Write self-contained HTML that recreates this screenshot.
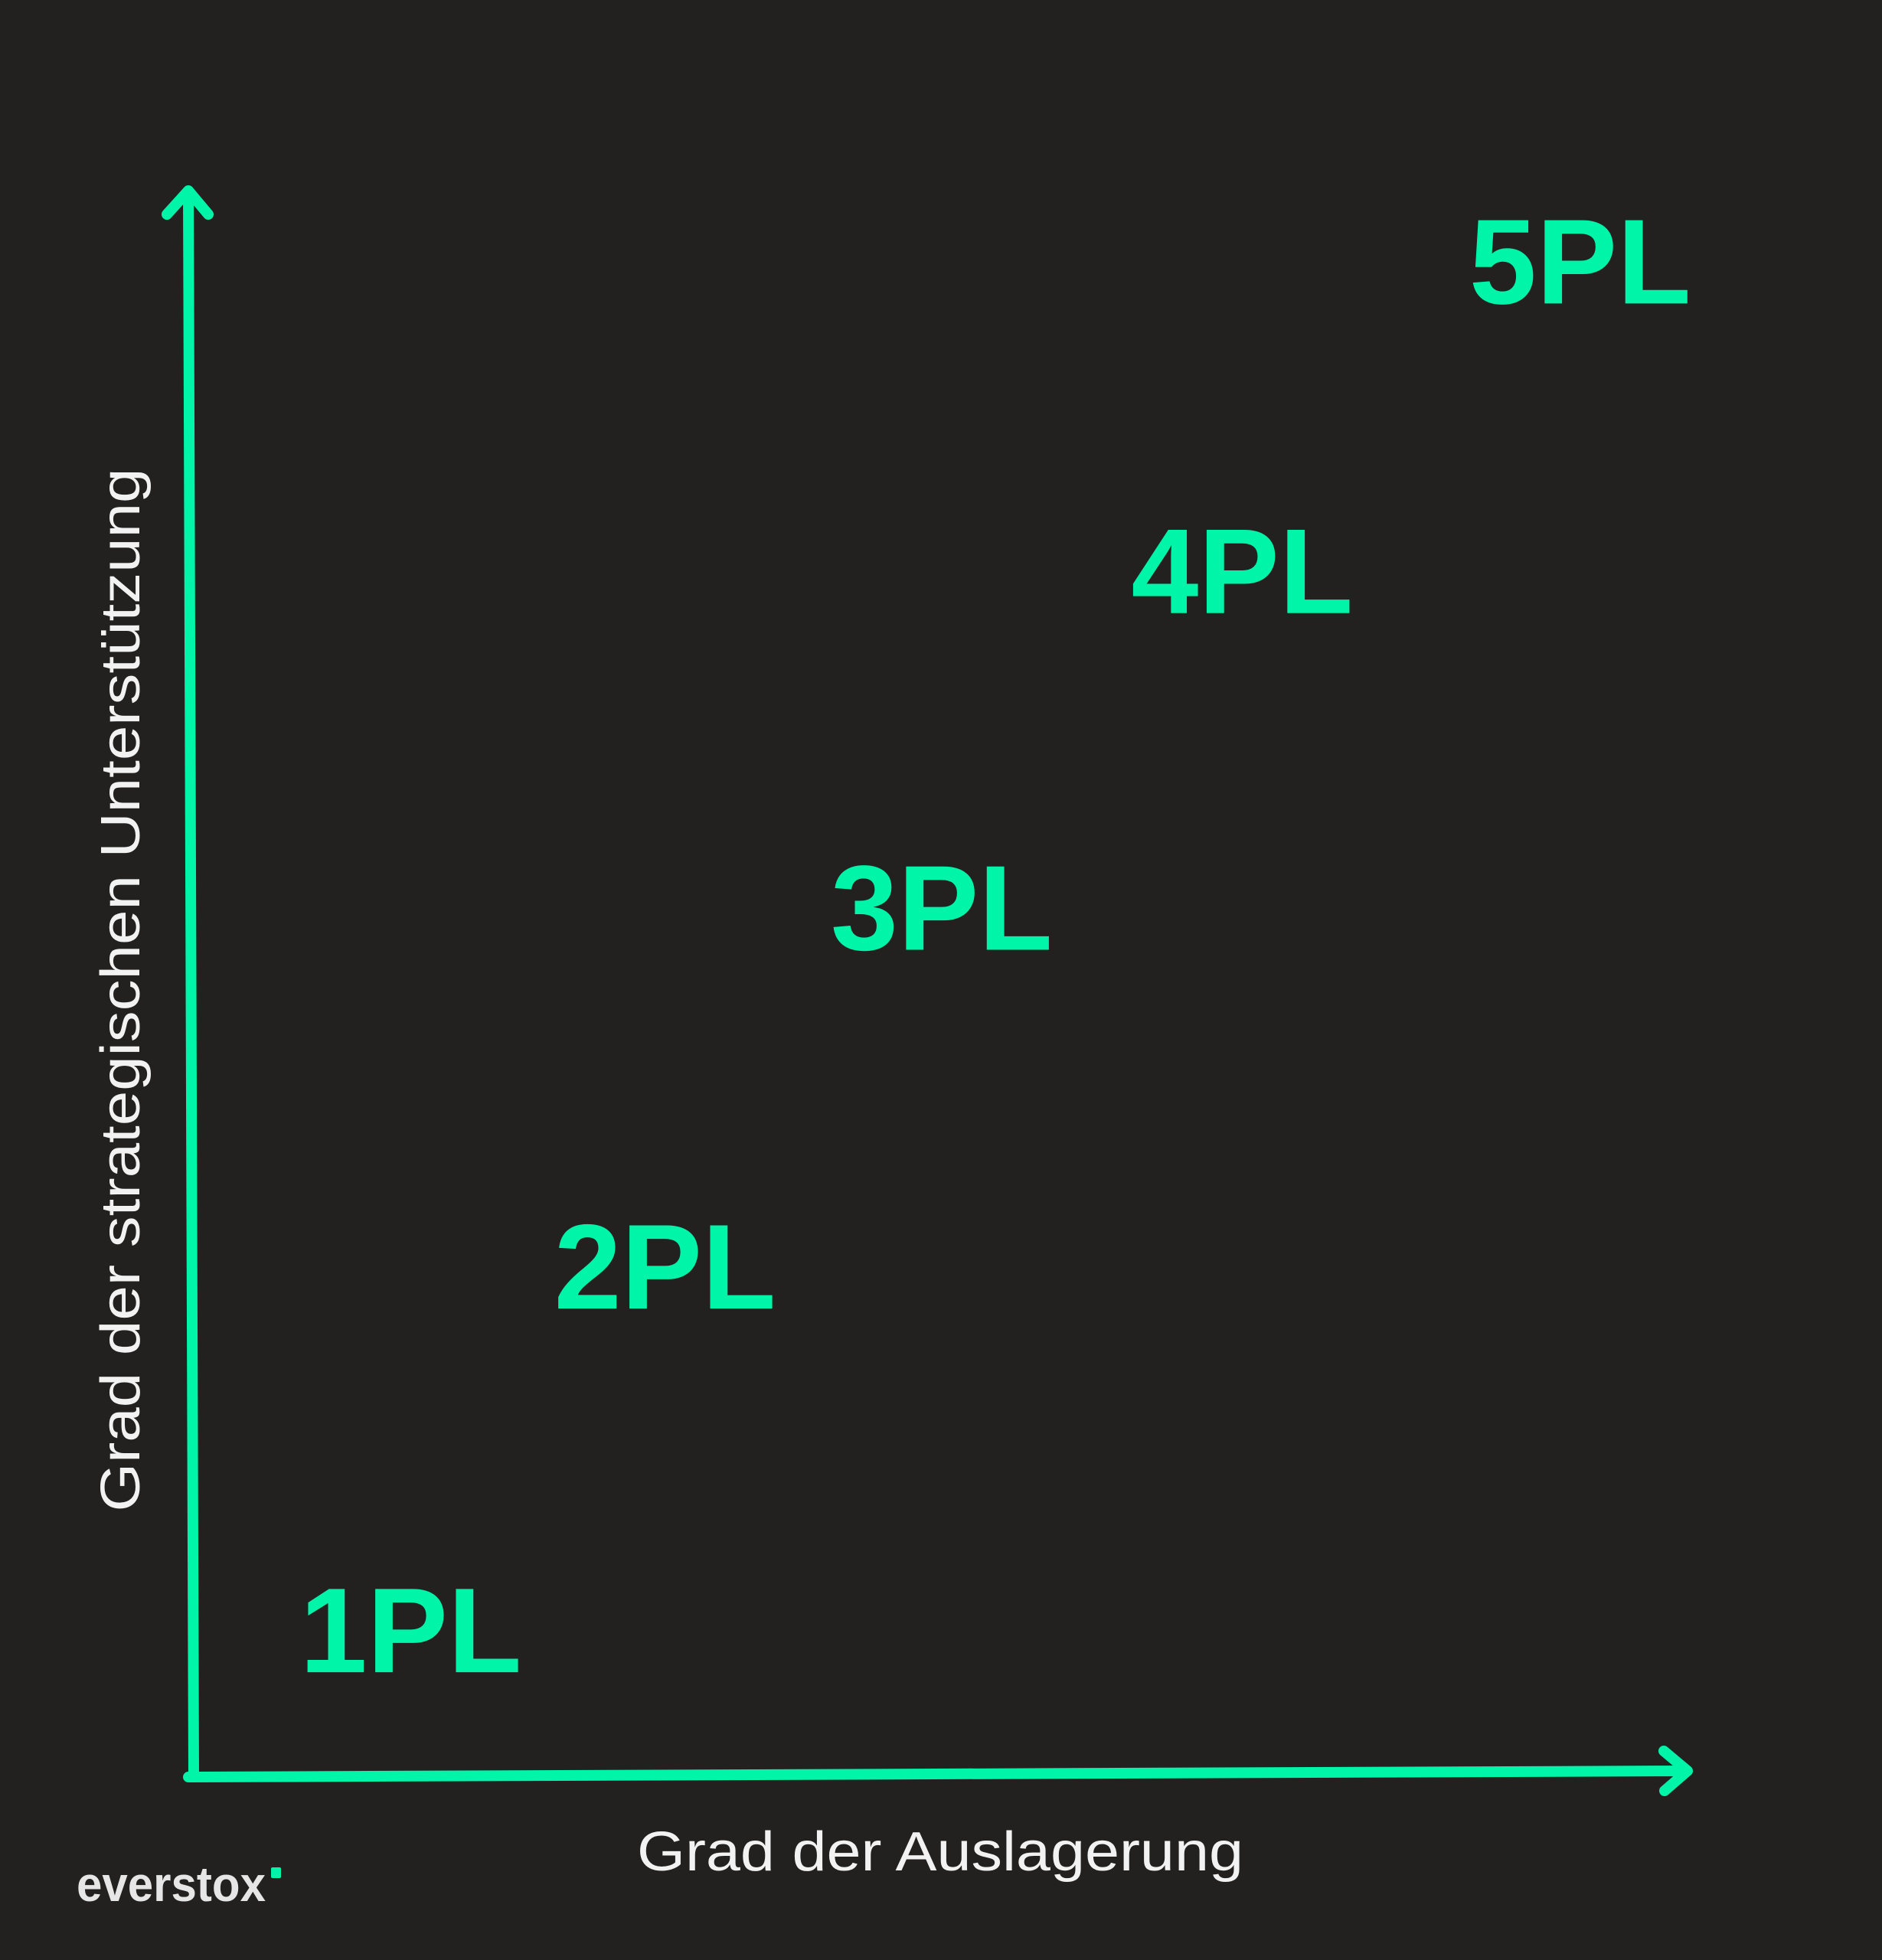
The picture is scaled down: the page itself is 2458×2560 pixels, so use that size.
<!DOCTYPE html>
<html><head><meta charset="utf-8"><style>
html,body{margin:0;padding:0;background:#222120;}
svg{display:block;}
</style></head><body>
<svg id="chart" width="2458" height="2560" viewBox="0 0 2458 2560" xmlns="http://www.w3.org/2000/svg">
<rect x="0" y="0" width="2458" height="2560" fill="#222120"/>
<g id="axes" stroke="#00f5a8" stroke-width="14" fill="none" stroke-linecap="round" stroke-linejoin="round">
<path d="M253 2321 L246 250"/>
<path d="M218 280 L246 249 L272 280"/>
<path d="M246 2321 L2203 2313"/>
<path d="M2173 2287 L2204 2313 L2174 2339"/>
</g>
<text transform="translate(182,1293) rotate(-90)" text-anchor="middle" font-family="Liberation Sans, sans-serif" font-size="72" fill="#f2f2f2" textLength="1363" lengthAdjust="spacingAndGlyphs">Grad der strategischen Unterstützung</text>
<text x="832" y="2443" font-family="Liberation Sans, sans-serif" font-size="72" fill="#f2f2f2" textLength="792" lengthAdjust="spacingAndGlyphs">Grad der Auslagerung</text>
<text x="100" y="2483" font-family="Liberation Sans, sans-serif" font-weight="bold" font-size="64" fill="#e6e6e6" textLength="247" lengthAdjust="spacingAndGlyphs">everstox</text>
<rect x="354" y="2439" width="13" height="14" rx="2" fill="#00f5a8"/>
<g id="labels"></g>
</svg>
<script>
const categories = ["1PL","2PL","3PL","4PL","5PL"];
const xValues = [0.71, 2.41, 4.26, 6.27, 8.53];
const yValues = [0.66, 2.95, 5.21, 7.33, 9.28];
const X0 = 253, X1 = 2206, Y0 = 2321, Y1 = 247;
function xScale(v){ return X0 + v/10*(X1-X0); }
function yScale(v){ return Y0 - v/10*(Y0-Y1); }
const g = document.getElementById('labels');
const NS = "http://www.w3.org/2000/svg";
categories.forEach((c,i)=>{
  const t = document.createElementNS(NS,'text');
  
  
  t.setAttribute('x', xScale(xValues[i]));
  t.setAttribute('y', yScale(yValues[i]));
  t.setAttribute('font-family','Liberation Sans, sans-serif');
  t.setAttribute('font-weight','bold');
  t.setAttribute('font-size','158');
  t.setAttribute('fill','#00f5a8');
  t.textContent = c;
  g.appendChild(t);
});
</script>
</body></html>
